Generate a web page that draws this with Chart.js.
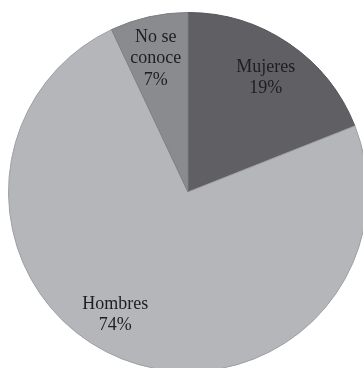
<!DOCTYPE html>
<html>
<head>
<meta charset="utf-8">
<script src="https://cdn.jsdelivr.net/npm/chart.js@4/dist/chart.umd.min.js"></script>
<style>
  html, body { margin: 0; padding: 0; background: #fff; overflow: hidden; width: 363px; height: 368px; }
  #wrap { position: absolute; left: 8px; top: 12px; width: 360px; height: 360px; }
</style>
</head>
<body>
<div id="wrap"><canvas id="pie" width="360" height="360"></canvas></div>
<script>
"use strict";

// data
var categories = ["Mujeres", "Hombres", "No se conoce"];
var labelLines = [["Mujeres", "19%"], ["Hombres", "74%"], ["No se", "conoce", "7%"]];
var values = [19, 74, 7];

// fills
var fills = ["#606064", "#b5b6ba", "#8a8b8f"];
var edges = ["#56565a", "#9fa0a4", "#7e7f83"];

// label placement: radius fraction and angle shift (deg) per slice
var labelPlace = [{ r: 0.77, a: 0 }, { r: 0.795, a: 9 }, { r: 0.765, a: -1 }];

var sliceLabels = {
    id: "sliceLabels",
    afterDatasetsDraw: function(chart) {
        var ctx = chart.ctx;
        var meta = chart.getDatasetMeta(0);
        ctx.save();
        ctx.font = "18px 'Liberation Serif', 'Times New Roman', serif";
        ctx.fillStyle = "#1e1e1e";
        ctx.textAlign = "center";
        ctx.textBaseline = "middle";
        meta.data.forEach(function(arc, i) {
            var p = labelPlace[i];
            var mid = (arc.startAngle + arc.endAngle) / 2 + p.a * Math.PI / 180;
            var x = arc.x + Math.cos(mid) * arc.outerRadius * p.r;
            var y = arc.y + Math.sin(mid) * arc.outerRadius * p.r;
            var lines = labelLines[i];
            var lh = 21.6;
            var y0 = y - (lines.length - 1) * lh / 2;
            lines.forEach(function(t, k) {
                ctx.fillText(t, x, y0 + k * lh);
            });
        });
        ctx.restore();
    }
};

new Chart(document.getElementById("pie"), {
    type: "pie",
    data: {
        labels: categories,
        datasets: [{
            data: values,
            backgroundColor: fills,
            borderColor: edges,
            borderWidth: 1
        }]
    },
    options: {
        responsive: false,
        animation: false,
        layout: { padding: 0 },
        plugins: {
            legend: { display: false },
            tooltip: { enabled: false }
        }
    },
    plugins: [sliceLabels]
});
</script>
</body>
</html>
